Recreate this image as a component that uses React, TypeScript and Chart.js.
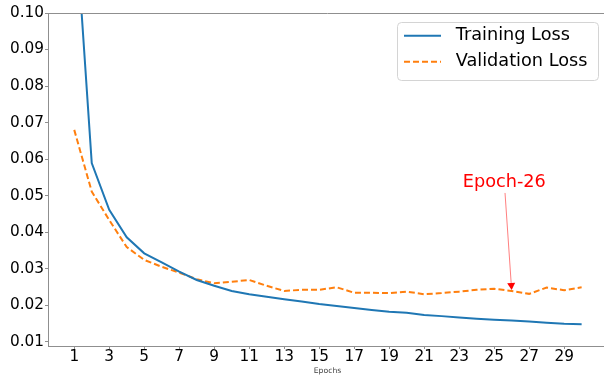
import React, { useEffect, useRef } from "react";
import { Chart, registerables } from "chart.js";

Chart.register(...registerables);

const epochs = [1, 2, 3, 4, 5, 6, 7, 8, 9, 10, 11, 12, 13, 14, 15, 16, 17, 18, 19, 20, 21, 22, 23, 24, 25, 26, 27, 28, 29, 30];
const trainingLoss = [0.130, 0.0589, 0.0461, 0.0386, 0.0342, 0.0317, 0.0292, 0.0269, 0.0253, 0.0239, 0.0230, 0.0223, 0.0216, 0.0210, 0.0203, 0.0198, 0.0192, 0.0187, 0.0182, 0.0179, 0.0173, 0.0170, 0.0166, 0.0163, 0.0160, 0.0158, 0.0155, 0.0152, 0.0149, 0.0148];
const validationLoss = [0.0680, 0.0511, 0.0433, 0.0359, 0.0324, 0.0305, 0.0289, 0.0271, 0.0260, 0.0264, 0.0269, 0.0253, 0.0239, 0.0242, 0.0242, 0.0249, 0.0234, 0.0234, 0.0233, 0.0237, 0.0230, 0.0233, 0.0237, 0.0242, 0.0245, 0.0239, 0.0231, 0.0248, 0.0241, 0.0249];
const xTicks = [1, 3, 5, 7, 9, 11, 13, 15, 17, 19, 21, 23, 25, 27, 29];
const yTicks = [0.01, 0.02, 0.03, 0.04, 0.05, 0.06, 0.07, 0.08, 0.09, 0.10];
const seriesLabels = ["Training Loss", "Validation Loss"];
const xTitle = "Epochs";
const annotationText = "Epoch-26";
const annotationEpoch = 26;
const annotationTextAt = [25.58, 0.0536];

const FONT = '"DejaVu Sans", sans-serif';
const SPINE = "#8f8f8f";

const topSpine = {
  id: "topSpine",
  afterDatasetsDraw(chart: any) {
    const { ctx, chartArea } = chart;
    ctx.save();
    ctx.strokeStyle = SPINE;
    ctx.lineWidth = 1;
    ctx.beginPath();
    ctx.moveTo(chartArea.left, chartArea.top + 0.5);
    ctx.lineTo(chartArea.right, chartArea.top + 0.5);
    ctx.stroke();
    ctx.restore();
  },
};

const annotation = {
  id: "annotation",
  afterDatasetsDraw(chart: any) {
    const { ctx, scales } = chart;
    const x = scales.x;
    const y = scales.y;
    const tx = x.getPixelForValue(annotationTextAt[0]);
    const ty = y.getPixelForValue(annotationTextAt[1]);
    ctx.save();
    ctx.font = `17.7px ${FONT}`;
    ctx.fillStyle = "#ff0000";
    ctx.textAlign = "center";
    ctx.textBaseline = "middle";
    ctx.fillText(annotationText, tx, ty);
    const px = x.getPixelForValue(annotationEpoch);
    const py = y.getPixelForValue(validationLoss[annotationEpoch - 1]) - 1;
    const sy = ty + 10.5;
    const sx = tx + ((px - tx) * (sy - ty)) / (py - ty);
    const ang = Math.atan2(py - sy, px - sx);
    const headLen = 7;
    const headW = 8;
    const bx = px - headLen * Math.cos(ang);
    const by = py - headLen * Math.sin(ang);
    ctx.strokeStyle = "rgba(255,0,0,0.5)";
    ctx.lineWidth = 1;
    ctx.beginPath();
    ctx.moveTo(sx, sy);
    ctx.lineTo(bx, by);
    ctx.stroke();
    const nx = -Math.sin(ang);
    const ny = Math.cos(ang);
    ctx.fillStyle = "#ff0000";
    ctx.beginPath();
    ctx.moveTo(px, py);
    ctx.lineTo(bx + (nx * headW) / 2, by + (ny * headW) / 2);
    ctx.lineTo(bx - (nx * headW) / 2, by - (ny * headW) / 2);
    ctx.closePath();
    ctx.fill();
    ctx.restore();
  },
};

const mplLegend = {
  id: "mplLegend",
  afterDraw(chart: any) {
    const { ctx, chartArea } = chart;
    const w = 201;
    const h = 58;
    const left = chartArea.right - 9 - w;
    const top = chartArea.top + 9;
    ctx.save();
    ctx.fillStyle = "rgba(255,255,255,0.8)";
    ctx.strokeStyle = "#d4d4d4";
    ctx.lineWidth = 1;
    ctx.beginPath();
    (ctx as any).roundRect(left + 0.5, top + 0.5, w, h, 4);
    ctx.fill();
    ctx.stroke();
    chart.data.datasets.forEach((ds: any, i: number) => {
      const rowY = top + 13.7 + i * 26;
      ctx.strokeStyle = ds.borderColor;
      ctx.lineWidth = ds.borderWidth;
      ctx.setLineDash(ds.borderDash || []);
      ctx.beginPath();
      ctx.moveTo(left + 7, rowY);
      ctx.lineTo(left + 44, rowY);
      ctx.stroke();
      ctx.setLineDash([]);
      ctx.fillStyle = "#000000";
      ctx.font = `17.7px ${FONT}`;
      ctx.textAlign = "left";
      ctx.textBaseline = "middle";
      ctx.fillText(ds.label, left + 58.7, rowY);
    });
    ctx.restore();
  },
};

export default function App() {
  const ref = useRef<HTMLCanvasElement | null>(null);

  useEffect(() => {
    if (!ref.current) return;
    Chart.defaults.font.family = FONT;
    const chart = new Chart(ref.current, {
      type: "line",
      data: {
        datasets: [
          {
            label: seriesLabels[0],
            data: epochs.map((e, i) => ({ x: e, y: trainingLoss[i] })),
            borderColor: "#1f77b4",
            borderWidth: 2,
            pointRadius: 0,
            tension: 0,
            fill: false,
          },
          {
            label: seriesLabels[1],
            data: epochs.map((e, i) => ({ x: e, y: validationLoss[i] })),
            borderColor: "#ff7f0e",
            borderWidth: 2,
            borderDash: [6, 3],
            pointRadius: 0,
            tension: 0,
            fill: false,
          },
        ],
      },
      options: {
        animation: false,
        responsive: false,
        devicePixelRatio: 1,
        layout: { padding: { left: 0, top: 13, right: 1, bottom: 0 } },
        plugins: { legend: { display: false }, tooltip: { enabled: false } },
        scales: {
          x: {
            type: "linear",
            min: -0.5,
            max: 31.45,
            afterBuildTicks: (s: any) => {
              s.ticks = xTicks.map((v) => ({ value: v }));
            },
            afterFit: (s: any) => {
              s.height = 32;
            },
            ticks: {
              autoSkip: false,
              maxRotation: 0,
              padding: 0,
              color: "#000000",
              font: { size: 15.3, lineHeight: 1 },
              callback: (v: any) => String(v),
            },
            grid: {
              display: true,
              drawOnChartArea: false,
              drawTicks: true,
              tickLength: 3,
              color: SPINE,
            },
            border: { display: true, color: SPINE, width: 1 },
            title: {
              display: true,
              text: xTitle,
              color: "#444444",
              font: { size: 7.7, lineHeight: 1.2 },
              padding: { top: 0, bottom: 2.7 },
            },
          },
          y: {
            type: "linear",
            min: 0.00882,
            max: 0.1,
            afterBuildTicks: (s: any) => {
              s.ticks = yTicks.map((v) => ({ value: v }));
            },
            afterFit: (s: any) => {
              s.width = 48;
            },
            ticks: {
              autoSkip: false,
              padding: 1,
              color: "#000000",
              font: { size: 15.3, lineHeight: 1 },
              callback: (v: any) => Number(v).toFixed(2),
            },
            grid: {
              display: true,
              drawOnChartArea: false,
              drawTicks: true,
              tickLength: 3,
              color: SPINE,
            },
            border: { display: true, color: SPINE, width: 1 },
          },
        },
      },
      plugins: [topSpine, annotation, mplLegend],
    } as any);
    return () => chart.destroy();
  }, []);

  return (
    <div
      style={{
        position: "fixed",
        left: 0,
        top: 0,
        width: 604,
        height: 378,
        overflow: "hidden",
        background: "#ffffff",
      }}
    >
      <canvas ref={ref} width={608} height={378} style={{ display: "block", width: 608, height: 378 }} />
    </div>
  );
}
